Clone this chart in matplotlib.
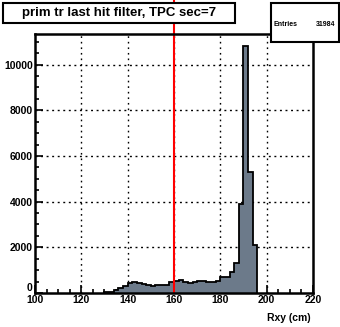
import numpy as np
import matplotlib
matplotlib.use("Agg")
import matplotlib.pyplot as plt
from matplotlib.patches import Rectangle
from matplotlib.ticker import MultipleLocator, FuncFormatter
import matplotlib.transforms as mtransforms

# histogram data (2 cm bins, Rxy in cm)
bin_edges = np.arange(130, 198, 2)
counts = [40, 60, 110, 200, 300, 450, 500, 430, 400, 330, 320, 330, 350, 330,
          480, 520, 560, 470, 450, 480, 530, 520, 480, 460, 520, 680, 700, 900,
          1300, 3900, 10800, 5300, 2100]
cut_x = 160
title = "prim tr last hit filter, TPC sec=7"
entries = 31984
x_label = "Rxy (cm)"

plt.rcParams['font.family'] = ['Liberation Sans', 'DejaVu Sans']
plt.rcParams['font.weight'] = 'bold'

fig = plt.figure(figsize=(3.4, 3.27), dpi=100)
W, H = 340, 327
ax = fig.add_axes([35 / W, 1 - 293 / H, (313 - 35) / W, (293 - 34) / H])

ax.set_xlim(100, 220)
ax.set_ylim(0, 11340)

# grid (dotted, behind the histogram)
for gx in [120, 140, 160, 180, 200]:
    ax.axvline(gx, color='black', lw=1.0, linestyle=(0, (1.2, 2.8)), zorder=1)
for gy in [2000, 4000, 6000, 8000, 10000]:
    ax.axhline(gy, color='black', lw=1.0, linestyle=(0, (1.4, 2.6)), zorder=1)

ax.stairs(counts, bin_edges, fill=True, color='#6c7a8a', zorder=2)
ax.stairs(counts, bin_edges, fill=False, color='black', lw=1.3, zorder=3,
          baseline=0)

# cut line, extends above the frame up to the top of the figure
trans = mtransforms.blended_transform_factory(ax.transData, ax.transAxes)
ax.plot([cut_x, cut_x], [0, 293 / 259], color='red', lw=1.5, transform=trans,
        clip_on=False, zorder=4)

for s in ['left', 'bottom', 'top', 'right']:
    ax.spines[s].set_linewidth(1.8)
    ax.spines[s].set_zorder(5)

ax.xaxis.set_major_locator(MultipleLocator(20))
ax.xaxis.set_minor_locator(MultipleLocator(5))
ax.yaxis.set_major_locator(MultipleLocator(2000))
ax.yaxis.set_minor_locator(MultipleLocator(500))
# "0" on y is drawn by hand a bit higher, clear of "100"
ax.yaxis.set_major_formatter(FuncFormatter(lambda v, p: '' if v == 0 else f"{v:.0f}"))
ax.tick_params(which='both', direction='in', top=False, right=False,
               labelsize=7.5, width=1.2, pad=1.5)
ax.tick_params(which='major', length=6)
ax.tick_params(which='minor', length=3)
for lab in ax.get_xticklabels() + ax.get_yticklabels():
    lab.set_fontweight('bold')

ytrans = mtransforms.blended_transform_factory(ax.transAxes, ax.transData)
ax.text(-0.01, 0, "0", transform=ytrans, ha='right', va='bottom',
        fontsize=7.5, fontweight='bold')

fig.text(311 / W, 1 - 318 / H, x_label, ha='right', va='center',
         fontsize=7.5, fontweight='bold')

# title box
fig.add_artist(Rectangle((3 / W, 1 - 23 / H), (235 - 3) / W, 20 / H,
                         transform=fig.transFigure, facecolor='white',
                         edgecolor='black', lw=1.5, zorder=10))
fig.text(119 / W, 1 - 13 / H, title, ha='center', va='center',
         fontsize=9.5, fontweight='bold', zorder=11)

# stats box
fig.add_artist(Rectangle((271 / W, 1 - 42 / H), (339 - 271) / W, 39 / H,
                         transform=fig.transFigure, facecolor='white',
                         edgecolor='black', lw=1.5, zorder=10))
fig.text(274 / W, 1 - 24 / H, "Entries", ha='left', va='center',
         fontsize=5, fontweight='bold', zorder=11)
fig.text(335 / W, 1 - 24 / H, str(entries), ha='right', va='center',
         fontsize=5, fontweight='bold', zorder=11)

fig.savefig("out.png", dpi=100)
